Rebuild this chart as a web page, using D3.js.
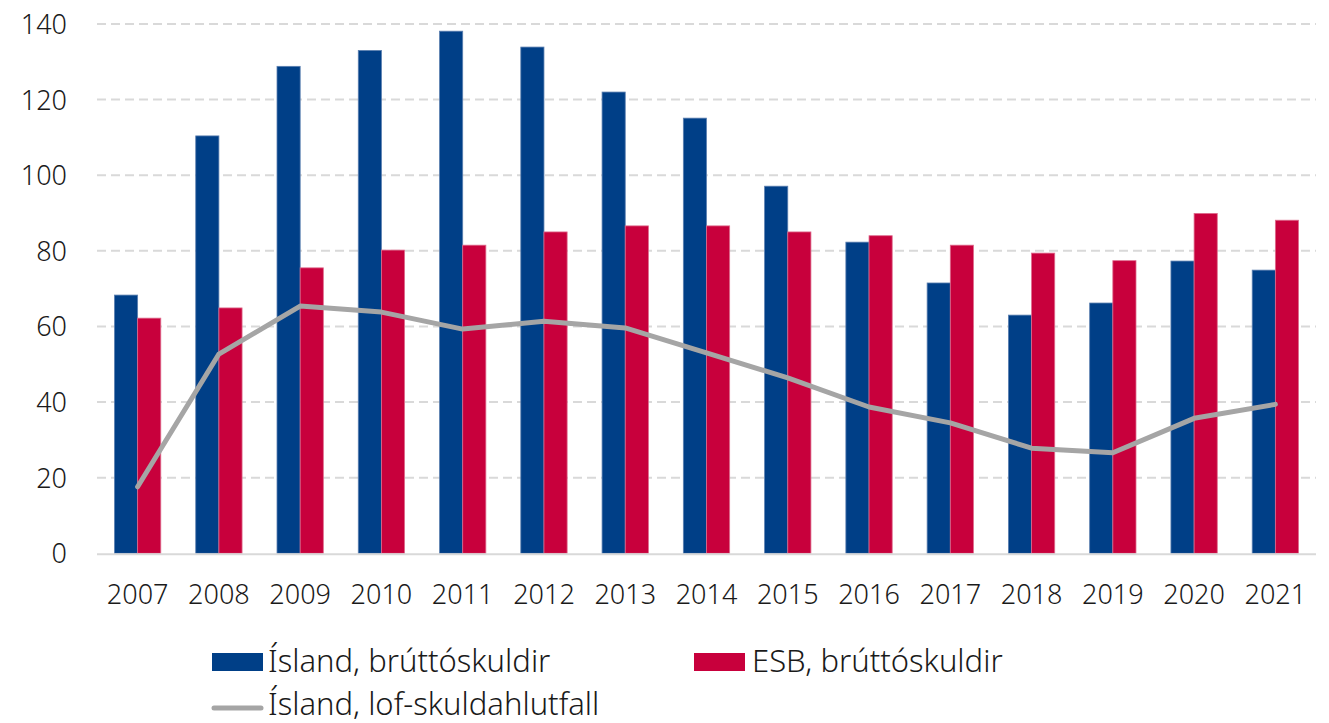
<!DOCTYPE html>
<html>
<head>
<meta charset="utf-8">
<script src="https://cdn.jsdelivr.net/npm/d3@7"></script>
<style>
  body { margin: 0; background: #fff; }
  text { font-family: "Noto Sans", sans-serif; font-weight: 300; fill: #1a1a1a; }
</style>
</head>
<body>
<script>
// Brúttóskuldir hins opinbera, Ísland og ESB, % af VLF

var years = ['2007', '2008', '2009', '2010', '2011', '2012', '2013', '2014',
             '2015', '2016', '2017', '2018', '2019', '2020', '2021'];

var islandGross = [68.3, 110.4, 128.8, 133.0, 138.1, 133.9, 122.0, 115.1,
                   97.1, 82.3, 71.5, 63.0, 66.2, 77.3, 74.9];

var esbGross = [62.2, 64.9, 75.5, 80.2, 81.5, 85.0, 86.6, 86.6,
                85.0, 84.0, 81.5, 79.4, 77.4, 89.9, 88.1];

var islandLof = [17.6, 52.7, 65.4, 63.8, 59.3, 61.4, 59.6, 53.0,
                 46.4, 38.7, 34.5, 27.8, 26.6, 35.7, 39.4];

var yTicks = [0, 20, 40, 60, 80, 100, 120, 140];

var seriesNames = ['Ísland, brúttóskuldir', 'ESB, brúttóskuldir', 'Ísland, lof-skuldahlutfall'];

var colors = { island: '#003f87', esb: '#c8003c', lof: '#a5a5a5', grid: '#d9d9d9' };

var width = 1329,
    height = 723,
    margin = { top: 24, right: 13, bottom: 170, left: 97 };

var svg = d3.select('body').append('svg')
  .attr('width', width)
  .attr('height', height);

// Scales
var x = d3.scaleBand()
  .domain(years)
  .range([margin.left, width - margin.right])
  .paddingInner(0.43)
  .paddingOuter(0.215);

var x1 = d3.scaleBand()
  .domain(['island', 'esb'])
  .range([0, x.bandwidth()]);

var y = d3.scaleLinear()
  .domain([0, 140])
  .range([553.3, margin.top]);

var plotLeft = margin.left,
    plotRight = width - margin.right;

// Gridlines
svg.append('g')
  .selectAll('line')
  .data(yTicks.filter(function (d) { return d > 0; }))
  .join('line')
    .attr('x1', plotLeft)
    .attr('x2', plotRight)
    .attr('y1', function (d) { return y(d); })
    .attr('y2', function (d) { return y(d); })
    .attr('stroke', colors.grid)
    .attr('stroke-width', 2)
    .attr('stroke-dasharray', '9,5');

// Y axis labels
var yAxis = d3.axisLeft(y).tickValues(yTicks).tickSize(0).tickPadding(0);
var gy = svg.append('g')
  .attr('transform', 'translate(67,0)')
  .call(yAxis);
gy.select('.domain').remove();
gy.selectAll('text')
  .style('font-size', '27px')
  .attr('dy', '0.35em');

// Bars
var groups = svg.append('g')
  .selectAll('g')
  .data(years)
  .join('g')
    .attr('transform', function (d) { return 'translate(' + x(d) + ',0)'; });

groups.append('rect')
  .attr('x', x1('island'))
  .attr('width', x1.bandwidth())
  .attr('y', function (d, i) { return y(islandGross[i]); })
  .attr('height', function (d, i) { return y(0) - y(islandGross[i]); })
  .attr('fill', colors.island)
  .attr('stroke', '#5b7fb0')
  .attr('stroke-width', 0.8);

groups.append('rect')
  .attr('x', x1('esb'))
  .attr('width', x1.bandwidth())
  .attr('y', function (d, i) { return y(esbGross[i]); })
  .attr('height', function (d, i) { return y(0) - y(esbGross[i]); })
  .attr('fill', colors.esb)
  .attr('stroke', '#de6b8d')
  .attr('stroke-width', 0.8);

// Baseline
svg.append('line')
  .attr('x1', plotLeft)
  .attr('x2', plotRight)
  .attr('y1', y(0) + 1)
  .attr('y2', y(0) + 1)
  .attr('stroke', colors.grid)
  .attr('stroke-width', 2);

// Line
var line = d3.line()
  .x(function (d, i) { return x(years[i]) + x.bandwidth() / 2; })
  .y(function (d) { return y(d); });

svg.append('path')
  .datum(islandLof)
  .attr('d', line)
  .attr('fill', 'none')
  .attr('stroke', colors.lof)
  .attr('stroke-width', 5)
  .attr('stroke-linecap', 'round')
  .attr('stroke-linejoin', 'round');

// X axis labels
var xAxis = d3.axisBottom(x).tickSize(0).tickPadding(0);
var gx = svg.append('g')
  .attr('transform', 'translate(0,585)')
  .call(xAxis);
gx.select('.domain').remove();
gx.selectAll('text')
  .style('font-size', '27px')
  .attr('dy', '0.7em');

// Legend
var legend = svg.append('g').style('font-size', '31px');

legend.append('rect')
  .attr('x', 212).attr('y', 653).attr('width', 51).attr('height', 18)
  .attr('fill', colors.island);
legend.append('text')
  .attr('x', 268).attr('y', 672)
  .text(seriesNames[0]);

legend.append('rect')
  .attr('x', 694).attr('y', 653).attr('width', 51).attr('height', 18)
  .attr('fill', colors.esb);
legend.append('text')
  .attr('x', 752).attr('y', 672)
  .text(seriesNames[1]);

legend.append('line')
  .attr('x1', 214).attr('x2', 261)
  .attr('y1', 708).attr('y2', 708)
  .attr('stroke', colors.lof)
  .attr('stroke-width', 5)
  .attr('stroke-linecap', 'round');
legend.append('text')
  .attr('x', 268).attr('y', 715)
  .text(seriesNames[2]);
</script>
</body>
</html>
